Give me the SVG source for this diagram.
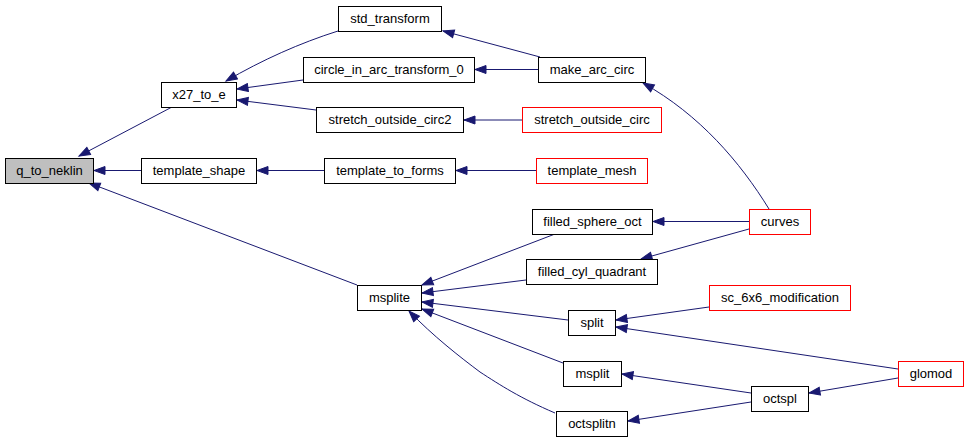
<svg xmlns="http://www.w3.org/2000/svg" width="968" height="443" viewBox="0 0 968 443">
<style>
.n rect{fill:#fff;stroke:#000;stroke-width:1}
.n.r rect{stroke:#ff0000}
.n.g rect{fill:#bfbfbf}
.n text{font-family:"Liberation Sans",Arial,sans-serif;font-size:13px;text-anchor:middle;fill:#000}
.e path{fill:none;stroke:#191970;stroke-width:1;marker-end:url(#ah)}
</style>
<defs>
<marker id="ah" markerUnits="userSpaceOnUse" markerWidth="14" markerHeight="10" refX="12" refY="5" orient="auto">
<path d="M1,1 L12,5 L1,9 z" fill="#191970" stroke="#191970" stroke-width="1"/>
</marker>
</defs>
<rect width="968" height="443" fill="#fff"/>
<g id="edges" class="e">
<path d="M172,107 L79,156"/>
<path d="M141,170.5 L94,170.5"/>
<path d="M357,285 L89,183"/>
<path d="M338,31 C300,43 262,60 226,81"/>
<path d="M303,80 L237,89"/>
<path d="M316,110 L237,100"/>
<path d="M540,57 L443,31"/>
<path d="M538,69.5 L475,69.5"/>
<path d="M769,209 C740,162 700,115 643,83"/>
<path d="M522,120 L464,120"/>
<path d="M324,170.5 L257,170.5"/>
<path d="M536,170.5 L456,170.5"/>
<path d="M555,234 L422,285"/>
<path d="M526,280 L422,293"/>
<path d="M568,320 L422,302"/>
<path d="M563,363 L422,309"/>
<path d="M555,413 C520,398 500,385 480,372 C460,357 433,336 409,311"/>
<path d="M749,221.5 L653,221.5"/>
<path d="M749,229 L641,259"/>
<path d="M709,307 L616,320"/>
<path d="M898,369 L616,327"/>
<path d="M751,393 L622,374"/>
<path d="M751,402 L628,421"/>
<path d="M898,378 L809,393"/>
</g>
<g id="q_to_neklin" class="n g"><rect x="5.5" y="158.5" width="88" height="25"/><text x="49.5" y="175">q_to_neklin</text></g>
<g id="x27_to_e" class="n"><rect x="161.5" y="82.5" width="75" height="25"/><text x="199" y="99">x27_to_e</text></g>
<g id="template_shape" class="n"><rect x="141.5" y="158.5" width="115" height="25"/><text x="199" y="175">template_shape</text></g>
<g id="msplite" class="n"><rect x="357.5" y="285.5" width="64" height="25"/><text x="389.5" y="302">msplite</text></g>
<g id="std_transform" class="n"><rect x="338.5" y="6.5" width="103" height="25"/><text x="390" y="23">std_transform</text></g>
<g id="circle_in_arc_transform_0" class="n"><rect x="303.5" y="57.5" width="171" height="25"/><text x="389" y="74">circle_in_arc_transform_0</text></g>
<g id="stretch_outside_circ2" class="n"><rect x="316.5" y="107.5" width="147" height="25"/><text x="390" y="124">stretch_outside_circ2</text></g>
<g id="template_to_forms" class="n"><rect x="324.5" y="158.5" width="131" height="25"/><text x="390" y="175">template_to_forms</text></g>
<g id="make_arc_circ" class="n"><rect x="538.5" y="57.5" width="107" height="25"/><text x="592" y="74">make_arc_circ</text></g>
<g id="stretch_outside_circ" class="n r"><rect x="522.5" y="107.5" width="139" height="25"/><text x="592" y="124">stretch_outside_circ</text></g>
<g id="template_mesh" class="n r"><rect x="536.5" y="158.5" width="111" height="25"/><text x="592" y="175">template_mesh</text></g>
<g id="filled_sphere_oct" class="n"><rect x="532.5" y="209.5" width="120" height="25"/><text x="592.5" y="226">filled_sphere_oct</text></g>
<g id="filled_cyl_quadrant" class="n"><rect x="526.5" y="259.5" width="131" height="25"/><text x="592" y="276">filled_cyl_quadrant</text></g>
<g id="split" class="n"><rect x="568.5" y="310.5" width="47" height="25"/><text x="592" y="327">split</text></g>
<g id="msplit" class="n"><rect x="563.5" y="361.5" width="58" height="25"/><text x="592.5" y="378">msplit</text></g>
<g id="octsplitn" class="n"><rect x="556.5" y="411.5" width="71" height="25"/><text x="592" y="428">octsplitn</text></g>
<g id="curves" class="n r"><rect x="749.5" y="209.5" width="61" height="25"/><text x="780" y="226">curves</text></g>
<g id="sc_6x6_modification" class="n r"><rect x="709.5" y="285.5" width="141" height="25"/><text x="780" y="302">sc_6x6_modification</text></g>
<g id="octspl" class="n"><rect x="751.5" y="386.5" width="57" height="25"/><text x="780" y="403">octspl</text></g>
<g id="glomod" class="n r"><rect x="898.5" y="361.5" width="65" height="25"/><text x="931" y="378">glomod</text></g>
</svg>
